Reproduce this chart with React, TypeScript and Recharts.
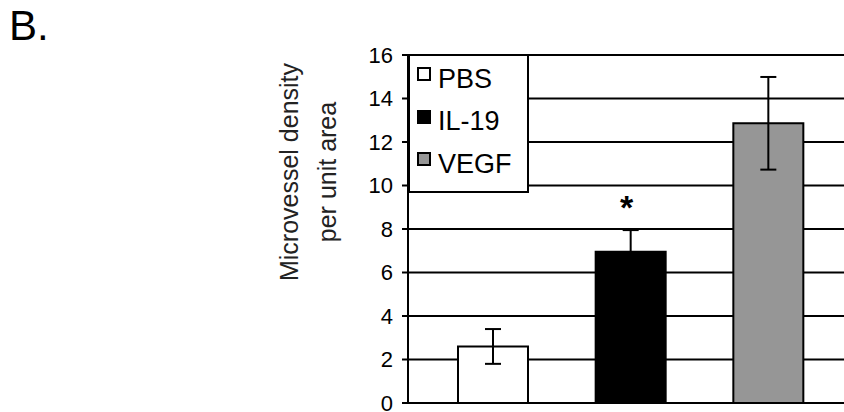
import { BarChart, Bar, Cell, XAxis, YAxis, CartesianGrid, ErrorBar, LabelList } from 'recharts';

// values
const groups = ['PBS', 'IL-19', 'VEGF'];
const density = [2.6, 6.95, 12.86];
const sem = [0.8, 1.0, 2.13];
const marks = ['', '*', ''];
const fills = ['#ffffff', '#000000', '#969696'];
const yTicks = [0, 2, 4, 6, 8, 10, 12, 14, 16];

const data = groups.map((g, i) => ({ group: g, value: density[i], err: sem[i], sig: marks[i] }));

const FONT = '"Liberation Sans", Arial, sans-serif';

function LegendBox() {
  return (
    <div
      style={{
        position: 'absolute',
        left: 408,
        top: 54,
        border: '2px solid #000',
        background: '#fff',
        width: 121,
        height: 139,
        boxSizing: 'border-box',
        padding: '2px 0 0 7px',
        fontFamily: FONT,
      }}
    >
      {groups.map((g, i) => (
        <div key={g} style={{ display: 'flex', alignItems: 'center', height: 42.5 }}>
          <span
            style={{
              display: 'inline-block',
              width: 10,
              height: 10,
              border: '2px solid #000',
              background: fills[i],
              marginRight: 7,
              position: 'relative',
              top: -5,
            }}
          />
          <span style={{ fontSize: 27, color: '#000', lineHeight: 1 }}>{g}</span>
        </div>
      ))}
    </div>
  );
}

function AxisTitle() {
  return (
    <g fontFamily={FONT} fontSize={25} fill="#222" textAnchor="middle">
      <text transform="translate(298, 172) rotate(-90)">Microvessel density</text>
      <text transform="translate(336, 172) rotate(-90)">per unit area</text>
    </g>
  );
}

function Star(props: any) {
  const { x, y, width, value } = props;
  if (!value) return null;
  return (
    <text x={x + width / 2 - 4} y={y - 33} textAnchor="middle" fontFamily={FONT} fontWeight="bold" fontSize={34} fill="#000">
      {value}
    </text>
  );
}

export default function App() {
  return (
    <div style={{ position: 'absolute', left: 0, top: 0, width: 844, height: 412, background: '#fff', overflow: 'hidden' }}>
      <div style={{ position: 'absolute', left: 9, top: 2, fontFamily: FONT, fontSize: 42, color: '#000' }}>B.</div>
      <BarChart width={844} height={412} data={data} margin={{ top: 55, right: 0, bottom: 9, left: 348 }}>
        <CartesianGrid vertical={false} stroke="#000" strokeWidth={2} />
        <XAxis dataKey="group" hide padding={{ left: 16, right: 7 }} />
        <YAxis
          domain={[0, 16]}
          ticks={yTicks}
          interval={0}
          width={60}
          tickSize={6}
          tickMargin={9}
          axisLine={{ stroke: '#000', strokeWidth: 2 }}
          tickLine={{ stroke: '#000', strokeWidth: 2 }}
          tick={{ fill: '#000', fontSize: 22, fontFamily: FONT }}
          label={<AxisTitle />}
        />
        <Bar dataKey="value" barSize={70} stroke="#000" strokeWidth={2} isAnimationActive={false}>
          {data.map((d, i) => (
            <Cell key={d.group} fill={fills[i]} />
          ))}
          <ErrorBar dataKey="err" width={8} stroke="#000" strokeWidth={2} isAnimationActive={false} />
          <LabelList dataKey="sig" content={<Star />} />
        </Bar>
      </BarChart>
      <LegendBox />
    </div>
  );
}
